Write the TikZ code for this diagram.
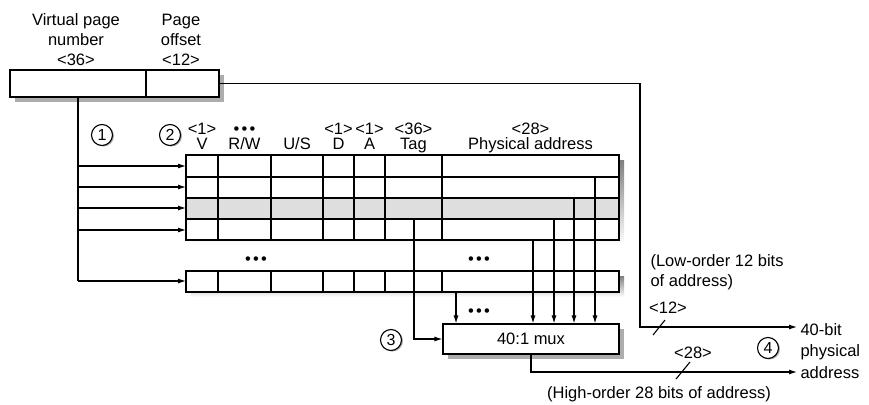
\documentclass[tikz,border=0pt]{standalone}
\usepackage{fontspec}
\setmainfont{Liberation Sans}
\usetikzlibrary{arrows.meta, positioning, shadows}
\definecolor{shade}{gray}{0.68}
\definecolor{hilite}{gray}{0.87}
\newcommand{\threedots}{\textbullet\kern2.2pt\textbullet\kern2.2pt\textbullet}

\begin{document}
\begin{tikzpicture}[x=1pt, y=-1pt, line width=1.1pt,
    lbl/.style={font=\fontsize{16.5}{19.5}\selectfont, inner sep=0pt},
    tip/.style={-{Latex[length=8pt, width=5pt]}},
    field/.style={draw, fill=white, inner sep=0pt, minimum height=27pt,
      drop shadow={shadow xshift=5pt, shadow yshift=-5pt, fill=shade, opacity=1}},
    num/.style={circle, draw, fill=white, inner sep=0pt, minimum size=21pt,
      font=\fontsize{16}{18}\selectfont,
      drop shadow={shadow xshift=1.5pt, shadow yshift=-1pt, fill=shade, opacity=1}}]
  \useasboundingbox (0,0) rectangle (869,404);
  % virtual address
  \node[field, minimum width=136pt] (vpn) at (78,83.5) {};
  \node[field, minimum width=73pt] (off) at (182.5,83.5) {};
  \foreach \t [count=\i] in {Virtual page, number, <36>}
    \node[lbl, anchor=base] (vpn\i) at (76,6.5+19.5*\i) {\t};
  \foreach \t [count=\i] in {Page, offset, <12>}
    \node[lbl, anchor=base] (po\i) at (181,6.5+19.5*\i) {\t};
  % TLB rows
  \fill[shade] (191,160) rectangle (624,245);
  \fill[white] (186,155) rectangle (619,240);
  \fill[hilite] (186,198) rectangle (619,219);
  \foreach \y in {198,219} \draw (186,\y) -- (619,\y);
  \draw[line width=2pt] (186,177) -- (619,177);
  \foreach \x in {218,271,323,354,385,442} \draw (\x,155) -- (\x,240);
  \draw[line width=1.5pt] (186,155) rectangle (619,240);
  \fill[shade] (191,276) rectangle (624,297);
  \fill[white] (186,271) rectangle (619,292);
  \foreach \x in {218,271,323,354,385,442} \draw (\x,271) -- (\x,292);
  \draw[line width=1.5pt] (186,271) rectangle (619,292);
  % field headers
  \foreach \cx/\hi/\lo [count=\i] in {202/{<1>}/V, 244.5/\threedots/{R/W},
      297/{}/{U/S}, 338.5/{<1>}/D, 369.5/{<1>}/A, 413.5/{<36>}/Tag,
      530.5/{<28>}/{Physical address}} {
    \node[lbl, anchor=base] (hd\i) at (\cx,134) {\hi};
    \node[lbl, anchor=base] (col\i) at (\cx,149) {\lo};
  }
  \node[lbl] (dotsa) at (256,261) {\threedots};
  \node[lbl] (dotsb) at (479,261) {\threedots};
  % mux
  \node[field, lbl, minimum width=176pt, minimum height=30pt] (mux) at (531,339) {40:1 mux};
  \node[lbl] (dotsc) at (479,313) {\threedots};
  % index into the rows
  \foreach \y [count=\n] in {166,187,208,230,281}
    \coordinate (in\n) at (186,\y);
  \draw (vpn.south) -- (vpn.south |- in5);
  \foreach \n in {1,...,5}
    \draw[tip] (vpn.south |- in\n) -- (in\n);
  % data into the mux
  \coordinate (pa1) at (595,177);
  \coordinate (pa2) at (574,198);
  \coordinate (pa3) at (554,219);
  \coordinate (pa4) at (533,240);
  \coordinate (pa5) at (456,292);
  \foreach \p in {pa1,pa2,pa3,pa4,pa5}
    \draw[tip] (\p) -- (\p |- mux.north);
  \coordinate (tag) at (414,219);
  \draw[tip] (tag) |- (mux.west);
  % physical address
  \coordinate (lo) at (797,327);
  \coordinate (hi) at (797,372);
  \draw[tip] (off.east) -| (640,327) -- (lo);
  \draw[tip] (mux.south) |- (hi);
  \draw (653,335) -- (665,320);
  \draw (676,379) -- (690,362);
  \node[lbl, anchor=base] (w12) at (668,313) {<12>};
  \node[lbl, anchor=base] (w28) at (693,358) {<28>};
  \node[lbl, anchor=base west] (low1) at (650,266) {(Low-order 12 bits};
  \node[lbl, anchor=base west] (low2) at (650,286) {of address)};
  \node[lbl, anchor=base] (high) at (659,398) {(High-order 28 bits of address)};
  \foreach \t [count=\i] in {40-bit, physical, address}
    \node[lbl, anchor=base west] (out\i) at (800,313.5+21.5*\i) {\t};
  % steps
  \node[num] (s1) at (102,135) {1};
  \node[num] (s2) at (170,135) {2};
  \node[num] (s3) at (391,340) {3};
  \node[num] (s4) at (768,348) {4};
\end{tikzpicture}
\end{document}
